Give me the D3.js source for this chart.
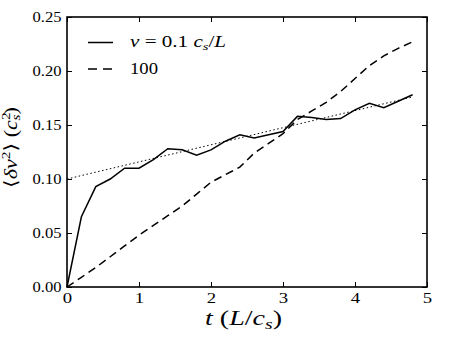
<!DOCTYPE html>
<html><head><meta charset="utf-8">
<script src="https://cdn.jsdelivr.net/npm/d3@7"></script>
<style>body{margin:0;background:#fff}svg{display:block}
svg text{font-family:"Liberation Serif","DejaVu Serif","Noto Serif","Times New Roman",Times,serif}</style>
</head><body>
<svg id="c" width="450" height="338"></svg>
<script>
const times = [0,0.2,0.4,0.6,0.8,1.0,1.2,1.4,1.6,1.8,2.0,2.2,2.4,2.6,2.8,3.0,3.2,3.4,3.6,3.8,4.0,4.2,4.4,4.6,4.8];
const nuLow = [0,0.065,0.093,0.100,0.110,0.110,0.118,0.128,0.127,0.122,0.127,0.135,0.141,0.138,0.141,0.144,0.158,0.157,0.155,0.156,0.164,0.170,0.166,0.172,0.178];
const nuHigh = [0,0.009,0.018,0.028,0.038,0.048,0.057,0.066,0.075,0.086,0.097,0.104,0.111,0.124,0.133,0.142,0.155,0.163,0.171,0.181,0.193,0.205,0.214,0.221,0.227];
const fitT = [0,4.8];
const fitV = [0.100,0.176];
const xTicks = [0,1,2,3,4,5];
const yTicks = [0,0.05,0.10,0.15,0.20,0.25];
const yTickLabels = ["0.00","0.05","0.10","0.15","0.20","0.25"];

const svg = d3.select("#c");
const L = 67, R = 427, T = 17, B = 287;
const x = d3.scaleLinear().domain([0,5]).range([L,R]);
const y = d3.scaleLinear().domain([0,0.25]).range([B,T]);

const line = d3.line().x(d=>x(d[0])).y(d=>y(d[1]));
const g = svg.append("g");
g.append("path").datum(fitT.map((t,i)=>[t,fitV[i]])).attr("d",line)
  .attr("fill","none").attr("stroke","#000").attr("stroke-width",1).attr("stroke-dasharray","1.5,2.5");
g.append("path").datum(times.map((t,i)=>[t,nuHigh[i]])).attr("d",line)
  .attr("fill","none").attr("stroke","#000").attr("stroke-width",1.5).attr("stroke-dasharray","8,5");
g.append("path").datum(times.map((t,i)=>[t,nuLow[i]])).attr("d",line)
  .attr("fill","none").attr("stroke","#000").attr("stroke-width",1.5);

// axes
const fmtY = (d,i)=>yTickLabels[i];
const ax = svg.append("g").attr("transform",`translate(0,${B})`)
  .call(d3.axisBottom(x).tickValues(xTicks).tickSizeInner(-5).tickSizeOuter(0).tickFormat(d3.format("d")));
const axT = svg.append("g").attr("transform",`translate(0,${T})`)
  .call(d3.axisTop(x).tickValues(xTicks).tickSizeInner(-5).tickSizeOuter(0).tickFormat(""));
const ay = svg.append("g").attr("transform",`translate(${L},0)`)
  .call(d3.axisLeft(y).tickValues(yTicks).tickSizeInner(-5).tickSizeOuter(0).tickFormat(fmtY));
const ayR = svg.append("g").attr("transform",`translate(${R},0)`)
  .call(d3.axisRight(y).tickValues(yTicks).tickSizeInner(-5).tickSizeOuter(0).tickFormat(""));
[ax,axT,ay,ayR].forEach(a=>{
  a.select(".domain").remove();
  a.attr("font-family",null);
  a.selectAll(".tick line").attr("stroke","#000").attr("stroke-width",1);
  a.selectAll(".tick text").attr("font-size",15).attr("fill","#000");
});
ax.selectAll(".tick text").attr("y",16.5).attr("dy",0).attr("transform","scale(1.25,1)");
ay.selectAll(".tick text").attr("x",-5.5).attr("dy","0.33em")
  .attr("textLength",29).attr("lengthAdjust","spacingAndGlyphs");
svg.append("rect").attr("x",L).attr("y",T).attr("width",R-L).attr("height",B-T)
  .attr("fill","none").attr("stroke","#000").attr("stroke-width",1.6);

// legend
const lg = svg.append("g");
lg.append("line").attr("x1",88).attr("x2",113).attr("y1",42.5).attr("y2",42.5).attr("stroke","#000").attr("stroke-width",1.5);
lg.append("line").attr("x1",88).attr("x2",114).attr("y1",69).attr("y2",69).attr("stroke","#000").attr("stroke-width",1.5).attr("stroke-dasharray","9,6");
const t1 = lg.append("text").attr("x",130).attr("y",47).attr("font-size",16)
  .attr("textLength",96).attr("lengthAdjust","spacingAndGlyphs");
t1.append("tspan").attr("font-style","italic").text("ν");
t1.append("tspan").text(" = 0.1 ");
t1.append("tspan").attr("font-style","italic").text("c");
t1.append("tspan").attr("font-style","italic").attr("font-size",11).attr("dy",3).text("s");
t1.append("tspan").attr("dy",-3).text("/");
t1.append("tspan").attr("font-style","italic").text("L");
lg.append("text").attr("x",130).attr("y",73.5).attr("font-size",16)
  .attr("textLength",28).attr("lengthAdjust","spacingAndGlyphs").text("100");

// x label
const xl = svg.append("text").attr("x",205).attr("y",325).attr("font-size",20)
  .attr("textLength",77).attr("lengthAdjust","spacingAndGlyphs");
xl.append("tspan").attr("font-style","italic").text("t");
xl.append("tspan").text(" (");
xl.append("tspan").attr("font-style","italic").text("L");
xl.append("tspan").text("/");
xl.append("tspan").attr("font-style","italic").text("c");
xl.append("tspan").attr("font-style","italic").attr("font-size",14).attr("dy",4).text("s");
xl.append("tspan").attr("dy",-4).text(")");

// y label
const yl = svg.append("text").attr("transform","translate(17,188) rotate(-90)").attr("font-size",18)
  .attr("textLength",81).attr("lengthAdjust","spacingAndGlyphs");
yl.append("tspan").text("⟨");
yl.append("tspan").attr("font-style","italic").text("δv");
yl.append("tspan").attr("font-size",12.5).attr("dy",-7).text("2");
yl.append("tspan").attr("dy",7).text("⟩ (");
yl.append("tspan").attr("font-style","italic").text("c");
yl.append("tspan").attr("font-size",12.5).attr("dy",-7).text("2");
yl.append("tspan").attr("font-style","italic").attr("font-size",12.5).attr("dx",-6.5).attr("dy",10).text("s");
yl.append("tspan").attr("dy",-3).text(")");
</script>
</body></html>
